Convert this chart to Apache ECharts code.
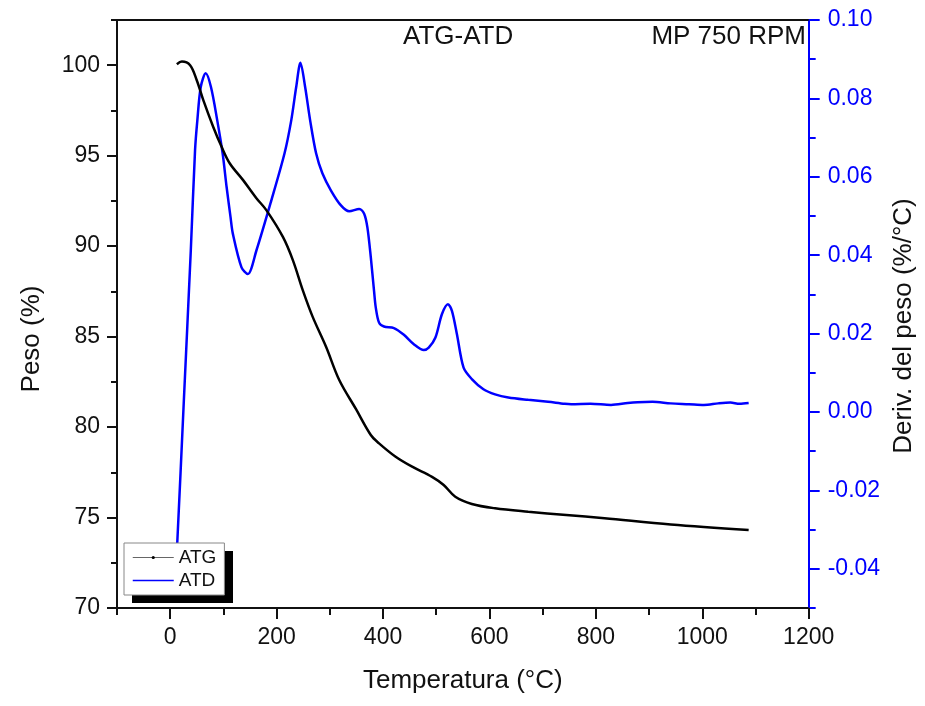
<!DOCTYPE html>
<html>
<head>
<meta charset="utf-8">
<script src="https://cdn.jsdelivr.net/npm/echarts@6/dist/echarts.min.js"></script>
<style>
html,body{margin:0;padding:0;background:#fff;}
#chart{width:925px;height:706px;}
</style>
</head>
<body>
<div id="chart"></div>
<script>
// ---- data ----
var atgTemp = [12.5, 21.9, 37.4, 49.9, 62.2, 80.9, 96.6, 112.1, 137.0, 162.0, 180.7, 211.8, 230.5, 249.1, 267.8, 292.9, 317.7, 349.0, 377.0, 392.5, 423.7, 454.7, 492.1, 514.0, 535.8, 566.9, 610.6, 672.8, 744.4, 816.2, 940.7, 1087.2];
var atgPeso = [100.05, 100.2, 100.0, 99.17, 98.07, 96.59, 95.49, 94.57, 93.65, 92.65, 91.99, 90.51, 89.23, 87.57, 86.09, 84.44, 82.60, 81.00, 79.56, 79.10, 78.36, 77.81, 77.25, 76.80, 76.15, 75.75, 75.51, 75.32, 75.14, 74.96, 74.62, 74.31];

var atdTemp = [10.0, 13.1, 25.6, 38.7, 46.7, 51.0, 57.4, 66.7, 76.6, 88.4, 98.5, 106.0, 113.4, 117.7, 134.0, 145.8, 162.0, 190.1, 214.9, 227.5, 236.8, 244.8, 253.6, 263.0, 274.2, 286.0, 302.2, 320.9, 336.4, 355.1, 364.5, 370.6, 377.0, 383.1, 386.3, 392.5, 401.8, 420.5, 439.2, 457.9, 476.6, 485.9, 498.5, 510.8, 522.0, 529.5, 538.8, 551.4, 566.9, 588.7, 610.6, 635.5, 672.8, 710.2, 741.4, 753.8, 790.0, 828.5, 860.0, 878.4, 906.5, 940.7, 975.0, 1003.1, 1030.0, 1052.8, 1070.0, 1087.2];
var atdDeriv = [-0.040, -0.0338, 0.0028, 0.0412, 0.0668, 0.0744, 0.0829, 0.0864, 0.0829, 0.0744, 0.0660, 0.0574, 0.0497, 0.0455, 0.0369, 0.0352, 0.0412, 0.0540, 0.0660, 0.0744, 0.0829, 0.0891, 0.0829, 0.0744, 0.0660, 0.0609, 0.0565, 0.0527, 0.0512, 0.0518, 0.0506, 0.0471, 0.0395, 0.0309, 0.0267, 0.0228, 0.0218, 0.0214, 0.0197, 0.0173, 0.0158, 0.0164, 0.0190, 0.0250, 0.0275, 0.0258, 0.0199, 0.0113, 0.0084, 0.0058, 0.0045, 0.0037, 0.0031, 0.0026, 0.0021, 0.0020, 0.0021, 0.0018, 0.0023, 0.0025, 0.0026, 0.0022, 0.0020, 0.0018, 0.0022, 0.0024, 0.0021, 0.0023];

var xTicks = [0, 200, 400, 600, 800, 1000, 1200];
var leftTicks = [70, 75, 80, 85, 90, 95, 100];
var rightTicks = [-0.04, -0.02, 0.00, 0.02, 0.04, 0.06, 0.08, 0.10];

var seriesNames = ['ATG', 'ATD'];
var xTitle = 'Temperatura (°C)';
var leftTitle = 'Peso (%)';
var rightTitle = 'Deriv. del peso (%/°C)';
var noteLeft = 'ATG-ATD';
var noteRight = 'MP 750 RPM';

function zip(a, b) { return a.map(function (v, i) { return [v, b[i]]; }); }

var FONT = 'Liberation Sans';
var BLUE = '#0000ff';
var INK = '#111';

var chart = echarts.init(document.getElementById('chart'), null, {renderer: 'canvas'});
var option = {
  backgroundColor: '#fff',
  animation: false,
  textStyle: {fontFamily: FONT},
  grid: {left: 117, right: 113, top: 20, bottom: 98, containLabel: false},
  xAxis: [
    {
      type: 'value', position: 'bottom', min: -100, max: 1200,
      name: xTitle, nameLocation: 'middle', nameGap: 60,
      nameTextStyle: {fontSize: 26, color: INK, fontFamily: FONT},
      axisLine: {show: true, onZero: false, lineStyle: {color: '#111', width: 2}},
      axisTick: {show: true, inside: false, length: 11, lineStyle: {color: '#111', width: 2}, customValues: xTicks},
      axisLabel: {show: true, margin: 18, fontSize: 23, color: INK, fontFamily: FONT, customValues: xTicks,
        formatter: function (v) { return String(v); }},
      splitLine: {show: false}
    },
    {
      type: 'value', position: 'bottom', min: -100, max: 1200, interval: 100,
      axisLine: {show: false, onZero: false},
      axisTick: {show: true, length: 7, lineStyle: {color: '#111', width: 2}},
      axisLabel: {show: false}, splitLine: {show: false}
    },
    {
      type: 'value', position: 'top', min: -100, max: 1200,
      axisLine: {show: true, onZero: false, lineStyle: {color: '#111', width: 2}},
      axisTick: {show: false}, axisLabel: {show: false}, splitLine: {show: false}
    }
  ],
  yAxis: [
    {
      type: 'value', position: 'left', min: 70, max: 102.5,
      name: leftTitle, nameLocation: 'middle', nameGap: 72,
      nameTextStyle: {fontSize: 26, color: INK, fontFamily: FONT, padding: [0, 50, 0, 0]},
      axisLine: {show: true, onZero: false, lineStyle: {color: '#111', width: 2}},
      axisTick: {show: true, length: 10, lineStyle: {color: '#111', width: 2}, customValues: leftTicks},
      axisLabel: {show: true, margin: 17, fontSize: 23, color: INK, fontFamily: FONT, customValues: leftTicks},
      splitLine: {show: false}
    },
    {
      type: 'value', position: 'left', min: 70, max: 102.5, interval: 2.5,
      axisLine: {show: false, onZero: false},
      axisTick: {show: true, length: 6, lineStyle: {color: '#111', width: 2}},
      axisLabel: {show: false}, splitLine: {show: false}
    },
    {
      type: 'value', position: 'right', min: -0.05, max: 0.10,
      name: rightTitle, nameLocation: 'middle', nameGap: 82,
      nameTextStyle: {fontSize: 26, color: INK, fontFamily: FONT, padding: [0, 24, 0, 0]},
      axisLine: {show: true, onZero: false, lineStyle: {color: BLUE, width: 2}},
      axisTick: {show: true, length: 11, lineStyle: {color: BLUE, width: 2}, customValues: rightTicks},
      axisLabel: {show: true, margin: 19, fontSize: 23, color: BLUE, fontFamily: FONT, customValues: rightTicks,
        formatter: function (v) { return v.toFixed(2); }},
      splitLine: {show: false}
    },
    {
      type: 'value', position: 'right', min: -0.05, max: 0.10, interval: 0.01,
      axisLine: {show: false, onZero: false},
      axisTick: {show: true, length: 7, lineStyle: {color: BLUE, width: 2}},
      axisLabel: {show: false}, splitLine: {show: false}
    }
  ],
  legend: {
    show: true, orient: 'vertical', left: 124, top: 543, z: 5,
    padding: [5, 8, 5, 8], itemGap: 4, itemWidth: 41, itemHeight: 4,
    backgroundColor: '#fff', borderColor: '#888', borderWidth: 1,
    textStyle: {fontSize: 19, color: INK, fontFamily: FONT, padding: [0, 0, 0, 0]},
    data: [
      {name: seriesNames[0], itemStyle: {color: '#000'}, lineStyle: {color: '#666', width: 1}},
      {name: seriesNames[1], itemStyle: {color: BLUE, opacity: 0}, lineStyle: {color: BLUE, width: 1.5}}
    ]
  },
  series: [
    {
      name: seriesNames[0], type: 'line', xAxisIndex: 0, yAxisIndex: 0,
      data: zip(atgTemp, atgPeso), smooth: 0.35, showSymbol: false, symbol: 'circle',
      lineStyle: {color: '#000', width: 2.5}, itemStyle: {color: '#000'}, z: 3
    },
    {
      name: seriesNames[1], type: 'line', xAxisIndex: 0, yAxisIndex: 2,
      data: zip(atdTemp, atdDeriv), smooth: 0.3, showSymbol: false, symbol: 'circle',
      lineStyle: {color: BLUE, width: 2.5}, itemStyle: {color: BLUE}, z: 2
    }
  ],
  graphic: [
    {type: 'rect', z: 4, shape: {x: 132, y: 551, width: 101, height: 52}, style: {fill: '#000'}},
    {type: 'text', left: 403, top: 24, style: {text: noteLeft, font: '26px "Liberation Sans"', fill: INK}},
    {type: 'text', right: 119, top: 24, style: {text: noteRight, font: '26px "Liberation Sans"', fill: INK}}
  ]
};
chart.setOption(option);
</script>
</body>
</html>
